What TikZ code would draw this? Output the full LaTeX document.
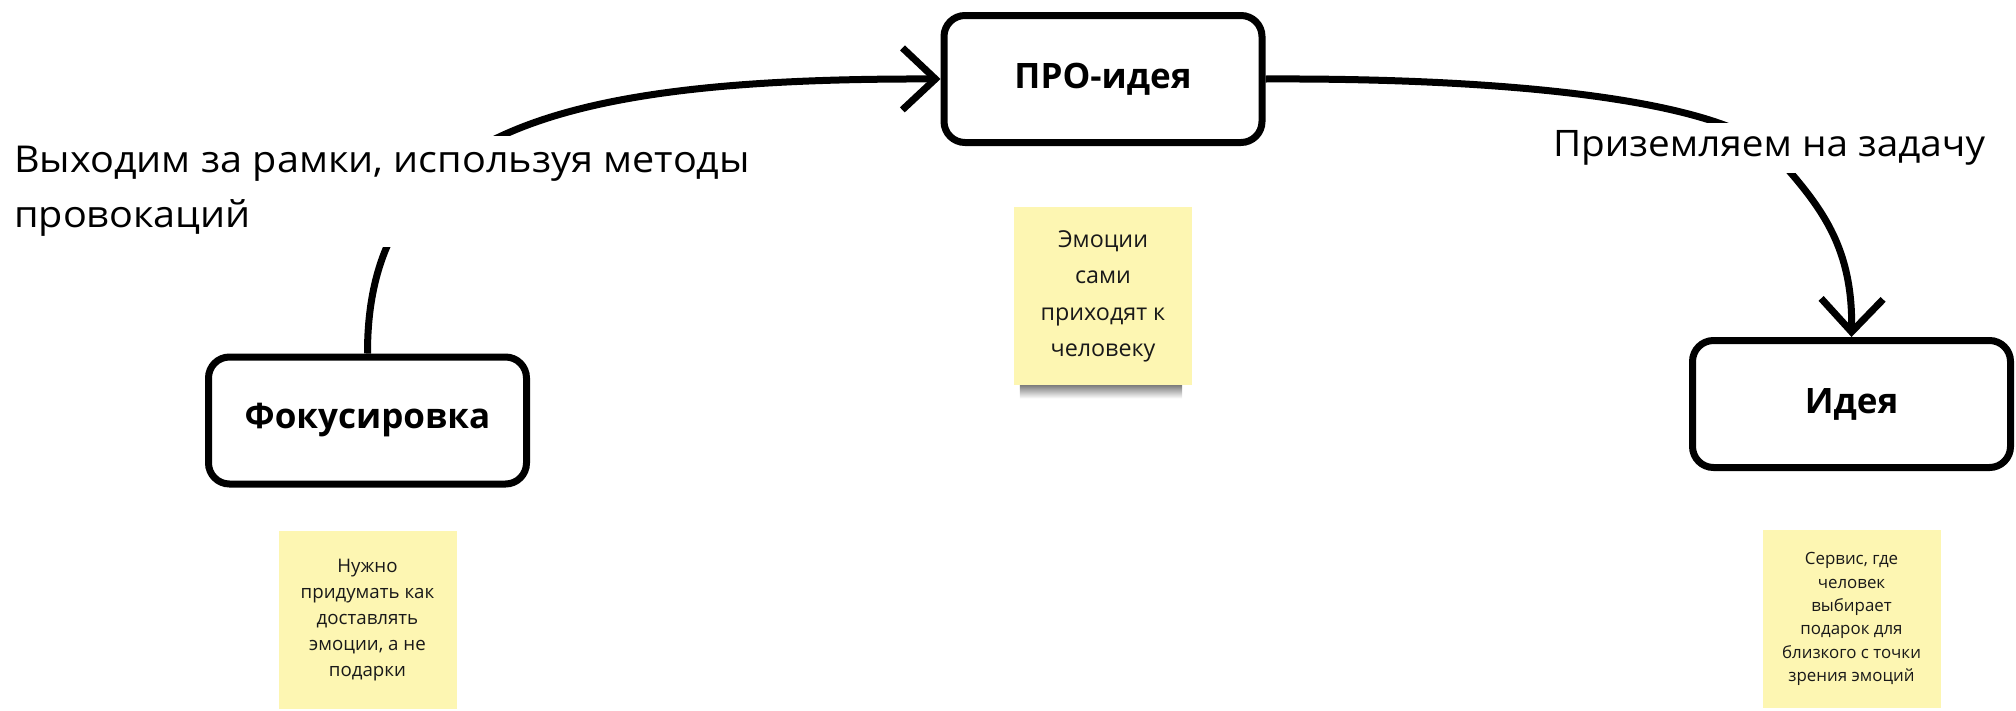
\documentclass[tikz,border=0pt]{standalone}
\usepackage{fontspec}
\setmainfont{Open Sans}
\newfontfamily\widesans{Open Sans}[FakeStretch=1.07]
\newfontfamily\widersans{Open Sans}[FakeStretch=1.06]
\usetikzlibrary{arrows.meta,positioning,backgrounds}
\definecolor{sticky}{HTML}{FDF6B2}
\tikzset{
  stage/.style={draw, line width=7pt, rounded corners=21pt, minimum width=318pt, minimum height=127pt,
    font=\fontsize{35}{42}\selectfont\bfseries},
  sticker/.style={fill=sticky, minimum width=178pt, minimum height=178pt, inner sep=0pt, align=center, text=black!90},
  hint/.style={fill=white, align=left, inner xsep=4pt, inner ysep=10pt},
  link/.style={line width=7pt, -{Straight Barb[length=33pt,width=62pt]}},
}
\begin{document}
\begin{tikzpicture}[x=1pt,y=-1pt]
\useasboundingbox (0,0) rectangle (2016,710);
\node[stage] (focus) at (367.5,420.5) {Фокусировка};
\node[stage] (pro) at (1103,79) {ПРО-идея};
\node[stage] (idea) at (1851.5,404) {Идея};

\node[sticker, below=43pt of focus, font=\fontsize{18.7}{26}\selectfont] (n1)
  {Нужно\\придумать как\\доставлять\\эмоции, а не\\подарки};
\node[sticker, below=61pt of pro, font=\fontsize{23.3}{36.5}\selectfont] (n2)
  {Эмоции\\сами\\приходят к\\человеку};
\node[sticker, below=59pt of idea, font=\fontsize{16.9}{23.4}\selectfont] (n3)
  {Сервис, где\\человек\\выбирает\\подарок для\\близкого с точки\\зрения эмоций};

\node[hint, anchor=north west, font=\widesans\fontsize{37}{55}\selectfont] (l1) at (10,136)
  {Выходим за рамки, используя методы\\провокаций};
\node[hint, inner ysep=8pt, font=\widersans\fontsize{36.5}{44}\selectfont] (l2) at (1769,148)
  {Приземляем на задачу};

\begin{scope}[on background layer]
\shade[top color=black!50, bottom color=white] ([xshift=6pt]n2.south west) rectangle ([xshift=-10pt,yshift=-13pt]n2.south east);
\draw[link] (focus.north) .. controls (367,130) and (560,78) .. (pro.west);
\draw[link] (pro.east) .. controls (1480,78) and (1700,95) .. (l2.center)
  .. controls (1815,200) and (1853,240) .. (idea.north);
\end{scope}
\end{tikzpicture}
\end{document}
